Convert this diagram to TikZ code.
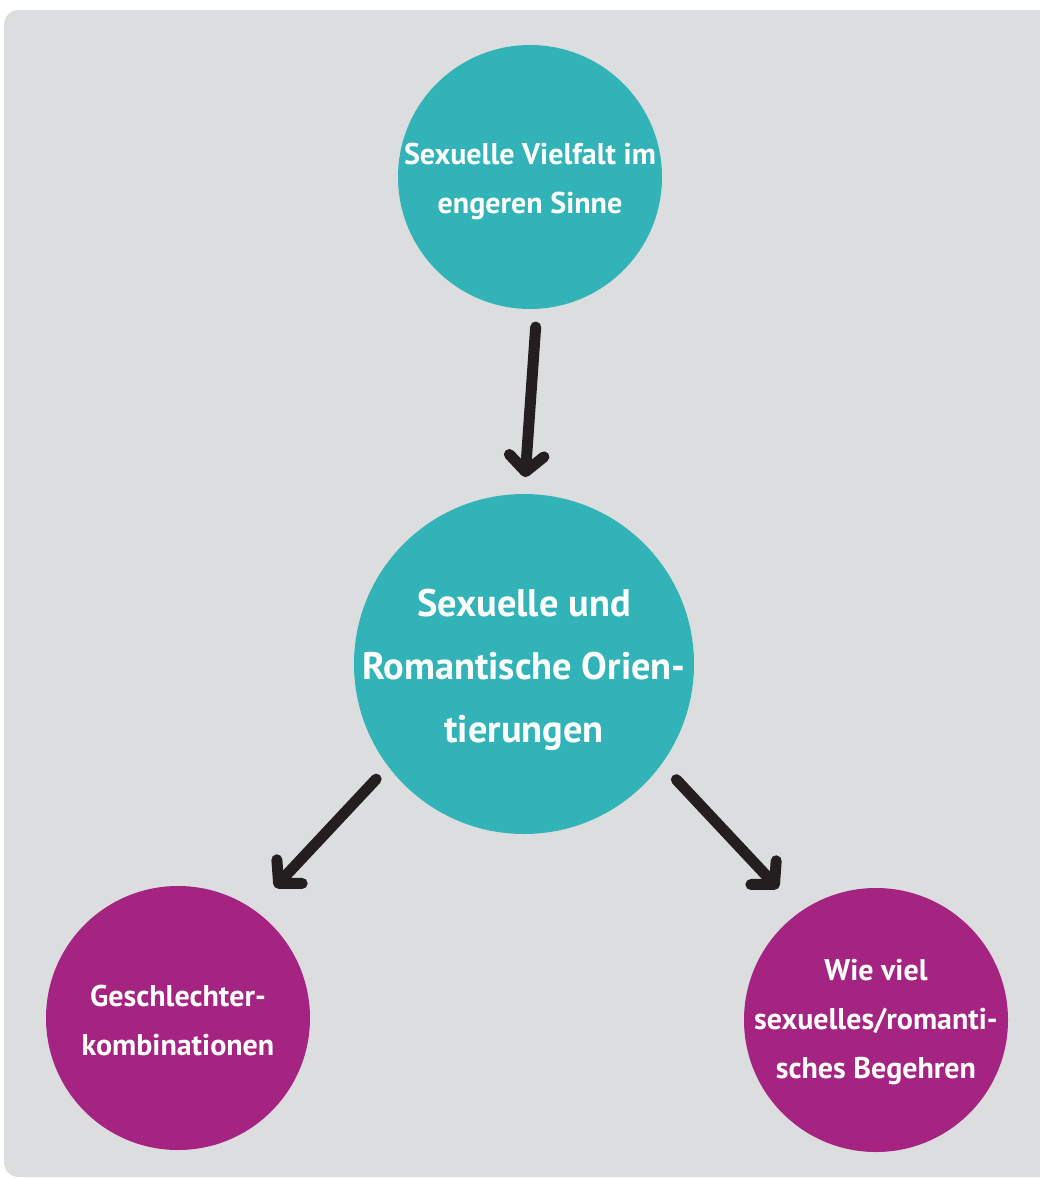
\documentclass[tikz,border=0pt]{standalone}
\usepackage{fontspec}
\setmainfont{PT Sans}
\usetikzlibrary{arrows.meta}
\definecolor{bggray}{HTML}{DCDDDF}
\definecolor{teal1}{HTML}{32B3B8}
\definecolor{plum1}{HTML}{A52381}
\definecolor{ink}{HTML}{231F20}

\begin{document}
\begin{tikzpicture}[x=0.75pt,y=-0.75pt,
  bubble/.style={shape=circle,fill=#1,inner sep=0pt},
  small text/.style={text=white,align=center,font=\bfseries\fontsize{22.5}{37}\selectfont},
  big text/.style={text=white,align=center,font=\bfseries\fontsize{28.8}{47}\selectfont},
  arrow/.style={-{Straight Barb[length=12pt,width=26pt,round]},draw=ink,line width=8.25pt,line cap=round}]
\useasboundingbox (0,0) rectangle (1039,1178);
\fill[bggray,rounded corners=11pt] (4,10) rectangle (1060,1177);

\node[bubble=teal1,minimum size=198pt,
  label={[small text,yshift=-3.4pt]center:Sexuelle Vielfalt im\\engeren Sinne}] (top) at (530,177) {};
\node[bubble=teal1,minimum size=255pt,
  label={[big text,yshift=-4.5pt]center:Sexuelle und\\Romantische Orien-\\tierungen}] (mid) at (524,664) {};
\node[bubble=plum1,minimum size=198pt,
  label={[small text,yshift=-2pt]center:Geschlechter-\\kombinationen}] (left) at (178,1018) {};
\node[bubble=plum1,minimum size=198pt,
  label={[small text,yshift=-1.5pt]center:Wie viel\\sexuelles/romanti-\\sches Begehren}] (right) at (876,1020) {};

\draw[arrow,shorten <=13.5pt,shorten >=12.5pt] (top.-87) -- (mid.90);
\draw[arrow,shorten <=13pt,shorten >=23pt] (mid.217) -- (left.55);
\draw[arrow,shorten <=16pt,shorten >=24pt] (mid.-36) -- (right.125);
\end{tikzpicture}
\end{document}
